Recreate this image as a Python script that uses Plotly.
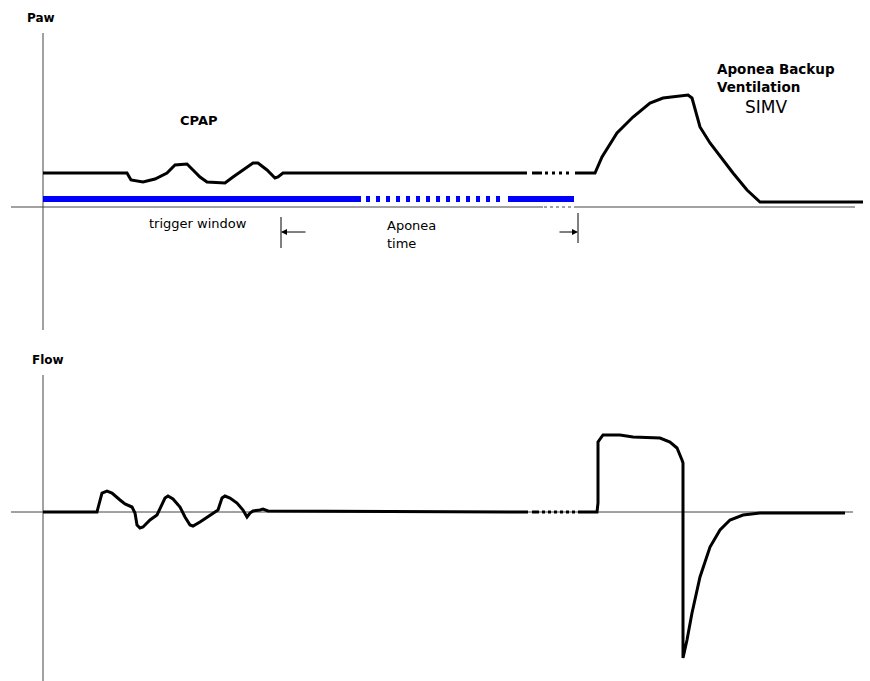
import plotly.graph_objects as go

W, H = 870, 681
SPLIT = 340  # pixel row separating the two panels

# ---------------- data (time in px-units, value relative to baseline) ----------------
# Paw panel
paw_cpap_t = [43, 127, 131, 143, 155, 167, 175, 187, 193, 200, 207, 225, 233, 243, 253, 258, 267, 275, 278, 283, 527]
paw_cpap_v = [34, 34, 27, 25, 28, 34, 42, 43, 37, 30, 25, 24, 30, 37, 44, 44, 37, 29, 30, 34, 34]
paw_gap_t = [532, 577]
paw_gap_v = [34, 34]
paw_simv_t = [577, 595, 602, 617, 633, 650, 663, 688, 692, 700, 710, 733, 747, 760, 863]
paw_simv_v = [34, 34, 50, 74, 90, 104, 109, 112, 109, 80, 64, 34, 17, 5, 5]

trig_solid1_t = [43, 361]
trig_dotted_t = [366, 503]
trig_solid2_t = [508, 574]
trig_level = 8

# Flow panel
flow_cpap_t = [43, 97, 98, 102, 107, 112, 120, 125, 132, 135, 137, 140, 143, 150, 157, 160, 165, 168, 173, 180,
               185, 190, 193, 200, 207, 213, 218, 222, 225, 230, 237, 243, 247, 250, 253, 260, 263, 268, 528]
flow_cpap_v = [0, 0, 4, 19, 21, 19, 12, 8, 5, -1, -13, -16, -15, -8, -3, 4, 14, 16, 13, 5,
               -5, -13, -14, -10, -5, -1, 2, 14, 16, 14, 9, 2, -5, -1, 1, 2, 3, 1, 0]
flow_gap_t = [532, 577]
flow_gap_v = [0, 0]
flow_simv_t = [578, 597, 598, 598, 603, 620, 633, 660, 670, 677, 682, 683, 683, 687, 692, 700, 710, 720, 730, 743, 760, 845]
flow_simv_v = [0, 0, 9, 70, 77, 77, 75, 74, 70, 64, 52, 49, -146, -128, -101, -65, -35, -18, -8, -3, -1, -1]

# axes extents
paw_axis_x = [11, 543]
paw_axis_dot_x = [544, 577]
paw_axis_x2 = [577, 855]
paw_vaxis_v = [174, -123]
flow_axis_x = [11, 853]
flow_vaxis_v = [137, -169]

AXC = "#444444"

fig = go.Figure()

def line(x, y, ax, color="black", width=3, dash="solid"):
    xa, ya = ("x", "y") if ax == 1 else ("x2", "y2")
    fig.add_trace(go.Scatter(x=x, y=y, mode="lines", xaxis=xa, yaxis=ya,
                             line=dict(color=color, width=width, dash=dash),
                             hoverinfo="skip", showlegend=False))

# Paw axes
line(paw_axis_x, [0, 0], 1, AXC, 1)
line(paw_axis_dot_x, [0, 0], 1, AXC, 1, "3px,3px")
line(paw_axis_x2, [0, 0], 1, AXC, 1)
line([43, 43], paw_vaxis_v, 1, AXC, 1)

# trigger window bar
line(trig_solid1_t, [trig_level] * 2, 1, "#0000ff", 6)
line(trig_dotted_t, [trig_level] * 2, 1, "#0000ff", 6, "4px,6px")
line(trig_solid2_t, [trig_level] * 2, 1, "#0000ff", 6)

# Paw waveform
line(paw_cpap_t, paw_cpap_v, 1)
line(paw_gap_t, paw_gap_v, 1, dash="10px,3px,3px,4px,3px,4px,3px,4px,3px,6px")
line(paw_simv_t, paw_simv_v, 1)

# Aponea time markers
line([281, 281], [-10, -41], 1, "black", 1)
line([578, 578], [-6, -36], 1, "black", 1)

# Flow axes
line(flow_axis_x, [0, 0], 2, AXC, 1)
line([43, 43], flow_vaxis_v, 2, AXC, 1)

# Flow waveform
line(flow_cpap_t, flow_cpap_v, 2)
line(flow_gap_t, flow_gap_v, 2, dash="7px,3px,3px,3px,3px,3px,3px,3px,3px,3px,3px,3px,3px,3px")
line(flow_simv_t, flow_simv_v, 2)

# arrows
for head, tail in [(281, 307), (578, 558)]:
    fig.add_annotation(x=head, y=-25, ax=tail, ay=-25, xref="x", yref="y", axref="x", ayref="y",
                       text="", showarrow=True, arrowhead=2, arrowsize=1.2, arrowwidth=1,
                       arrowcolor="black", standoff=0, startstandoff=0)

def px(x):
    return x / W

def py(y):
    return 1 - y / H

FONT = "DejaVu Sans"
labels = [
    ("<b>Paw</b>", 41, 18, "center", "middle", 12),
    ("<b>CPAP</b>", 198, 120, "center", "middle", 13),
    ("trigger window", 198, 223, "center", "middle", 13),
    ("Aponea", 386, 234, "left", "bottom", 13),
    ("time", 386, 235, "left", "top", 13),
    ("<b>Aponea Backup</b>", 716, 78, "left", "bottom", 13.5),
    ("<b>Ventilation</b>", 716, 78, "left", "top", 13.5),
    ("SIMV", 766, 107, "center", "middle", 17),
    ("<b>Flow</b>", 48, 360, "center", "middle", 12),
]
for txt, x, y, xanc, yanc, size in labels:
    fig.add_annotation(x=px(x), y=py(y), xref="paper", yref="paper", text=txt, showarrow=False,
                       xanchor=xanc, yanchor=yanc, borderpad=0,
                       font=dict(family=FONT, size=size, color="black"))

dom_split = 1 - SPLIT / H
ax_common = dict(visible=False, showgrid=False, zeroline=False, fixedrange=True)
fig.update_layout(
    width=W, height=H,
    margin=dict(l=0, r=0, t=0, b=0, pad=0),
    paper_bgcolor="white", plot_bgcolor="white",
    xaxis=dict(range=[0, W], domain=[0, 1], anchor="y", **ax_common),
    yaxis=dict(range=[-133, 207], domain=[dom_split, 1], anchor="x", **ax_common),
    xaxis2=dict(range=[0, W], domain=[0, 1], anchor="y2", **ax_common),
    yaxis2=dict(range=[-169, 172], domain=[0, dom_split], anchor="x2", **ax_common),
    showlegend=False,
)

fig.write_html("out.html", config={"displayModeBar": False},
               post_script="document.body.style.margin='0';document.body.style.overflow='hidden';")
